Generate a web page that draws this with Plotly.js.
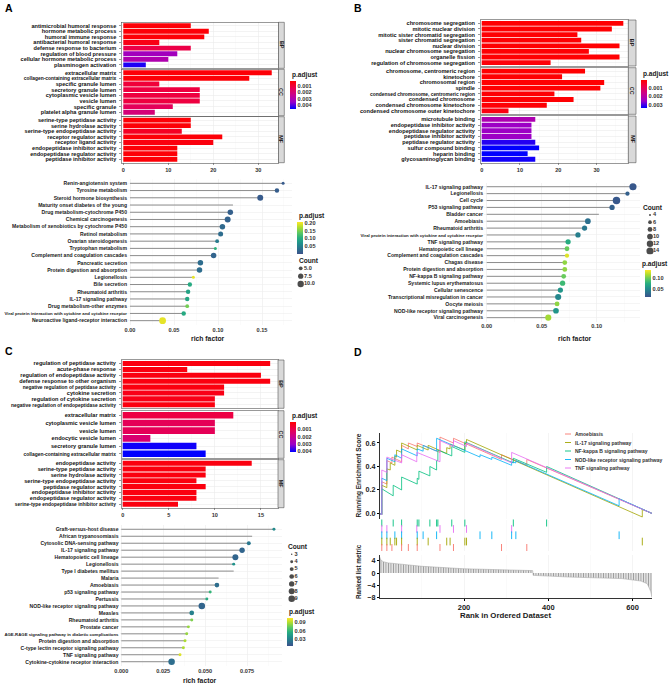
<!DOCTYPE html>
<html>
<head>
<meta charset="utf-8">
<script src="https://cdn.plot.ly/plotly-3.0.1.min.js"></script>
<style>html,body{margin:0;padding:0;background:#fff}#myDiv{width:669px;height:685px}</style>
</head>
<body>
<div id="myDiv"></div>
<script>
// ---------- panel A : GO bars ----------
var aBpTerms = ['antimicrobial humoral response', 'hormone metabolic process', 'humoral immune response', 'antibacterial humoral response', 'defense response to bacterium', 'regulation of blood pressure', 'cellular hormone metabolic process', 'plasminogen activation'];
var aBpCount = [15, 19, 18, 8, 15, 12, 10, 5];
var aBpPadj = [0.0003, 0.0003, 0.0003, 0.0005, 0.0012, 0.0033, 0.003, 0.0044];
var aCcTerms = ['extracellular matrix', 'collagen-containing extracellular matrix', 'specific granule lumen', 'secretory granule lumen', 'cytoplasmic vesicle lumen', 'vesicle lumen', 'specific granule', 'platelet alpha granule lumen'];
var aCcCount = [33, 28, 8, 17, 17, 17, 11, 7];
var aCcPadj = [0.0003, 0.0003, 0.001, 0.0011, 0.0011, 0.0011, 0.0015, 0.002];
var aMfTerms = ['serine-type peptidase activity', 'serine hydrolase activity', 'serine-type endopeptidase activity', 'receptor regulator activity', 'receptor ligand activity', 'endopeptidase inhibitor activity', 'endopeptidase regulator activity', 'peptidase inhibitor activity'];
var aMfCount = [15, 15, 13, 22, 20, 12, 12, 12];
var aMfPadj = [0.0003, 0.0003, 0.0007, 0.0003, 0.0004, 0.0003, 0.0003, 0.0003];

// ---------- panel A : KEGG lollipop ----------
var aKeggTerms = ['Renin-angiotensin system', 'Tyrosine metabolism', 'Steroid hormone biosynthesis', 'Maturity onset diabetes of the young', 'Drug metabolism-cytochrome P450', 'Chemical carcinogenesis', 'Metabolism of xenobiotics by cytochrome P450', 'Retinol metabolism', 'Ovarian steroidogenesis', 'Tryptophan metabolism', 'Complement and coagulation cascades', 'Pancreatic secretion', 'Protein digestion and absorption', 'Legionellosis', 'Bile secretion', 'Rheumatoid arthritis', 'IL-17 signaling pathway', 'Drug metabolism-other enzymes', 'Viral protein interaction with cytokine and cytokine receptor', 'Neuroactive ligand-receptor interaction'];
var aKeggRich = [0.174, 0.167, 0.148, 0.117, 0.114, 0.111, 0.105, 0.103, 0.099, 0.097, 0.095, 0.080, 0.079, 0.072, 0.068, 0.066, 0.065, 0.065, 0.061, 0.037];
var aKeggCount = [4, 6, 9, 2, 8, 9, 8, 7, 5, 4, 8, 8, 8, 4, 6, 6, 6, 5, 6, 11];
var aKeggPadj = [0.010, 0.012, 0.010, 0.21, 0.015, 0.018, 0.025, 0.030, 0.045, 0.11, 0.020, 0.030, 0.030, 0.20, 0.10, 0.09, 0.095, 0.15, 0.10, 0.20];
var aCountKeys = [5, 7.5, 10];

// ---------- panel B : GO bars ----------
var bBpTerms = ['chromosome segregation', 'mitotic nuclear division', 'mitotic sister chromatid segregation', 'sister chromatid segregation', 'nuclear division', 'nuclear chromosome segregation', 'organelle fission', 'regulation of chromosome segregation'];
var bBpCount = [37, 34, 25, 26, 36, 28, 36, 18];
var bBpPadj = [0.00002, 0.00002, 0.00003, 0.00003, 0.00002, 0.00003, 0.00002, 0.0001];
var bCcTerms = ['chromosome, centromeric region', 'kinetochore', 'chromosomal region', 'spindle', 'condensed chromosome, centromeric region', 'condensed chromosome', 'condensed chromosome kinetochore', 'condensed chromosome outer kinetochore'];
var bCcCount = [27, 21, 32, 31, 19, 24, 17, 7];
var bCcPadj = [0.00002, 0.00003, 0.00002, 0.00002, 0.00004, 0.00003, 0.00005, 0.0002];
var bMfTerms = ['microtubule binding', 'endopeptidase inhibitor activity', 'endopeptidase regulator activity', 'peptidase inhibitor activity', 'peptidase regulator activity', 'sulfur compound binding', 'heparin binding', 'glycosaminoglycan binding'];
var bMfCount = [14, 13, 13, 13, 14, 15, 12, 14];
var bMfPadj = [0.0022, 0.0025, 0.0025, 0.0025, 0.0032, 0.0034, 0.0034, 0.0033];

// ---------- panel B : KEGG lollipop ----------
var bKeggTerms = ['IL-17 signaling pathway', 'Legionellosis', 'Cell cycle', 'P53 signaling pathway', 'Bladder cancer', 'Amoebiasis', 'Rheumatoid arthritis', 'Viral protein interaction with cytokine and cytokine receptor', 'TNF signaling pathway', 'Hematopoietic cell lineage', 'Complement and coagulation cascades', 'Chagas disease', 'Protein digestion and absorption', 'NF-kappa B signaling pathway', 'Systemic lupus erythematosus', 'Cellular senescence', 'Transcriptional misregulation in cancer', 'Oocyte meiosis', 'NOD-like receptor signaling pathway', 'Viral carcinogenesis'];
var bKeggRich = [0.133, 0.128, 0.118, 0.114, 0.102, 0.092, 0.089, 0.083, 0.074, 0.073, 0.073, 0.071, 0.071, 0.070, 0.069, 0.067, 0.065, 0.064, 0.063, 0.056];
var bKeggCount = [14, 7, 15, 9, 3, 10, 9, 9, 9, 8, 7, 8, 8, 8, 9, 9, 11, 8, 10, 11];
var bKeggPadj = [0.02, 0.025, 0.02, 0.025, 0.2, 0.035, 0.04, 0.045, 0.075, 0.1, 0.13, 0.11, 0.11, 0.1, 0.085, 0.06, 0.05, 0.11, 0.06, 0.115];
var bCountKeys = [4, 6, 8, 10, 12, 14];

// ---------- panel C : GO bars ----------
var cBpTerms = ['regulation of peptidase activity', 'acute-phase response', 'regulation of endopeptidase activity', 'defense response to other organism', 'negative regulation of peptidase activity', 'cytokine secretion', 'regulation of cytokine secretion', 'negative regulation of endopeptidase activity'];
var cBpCount = [16, 7, 15, 16, 11, 11, 10, 10];
var cBpPadj = [0.0002, 0.0002, 0.0002, 0.0002, 0.0002, 0.0003, 0.0003, 0.0002];
var cCcTerms = ['extracellular matrix', 'cytoplasmic vesicle lumen', 'vesicle lumen', 'endocytic vesicle lumen', 'secretory granule lumen', 'collagen-containing extracellular matrix'];
var cCcCount = [12, 10, 10, 3, 8, 9];
var cCcPadj = [0.0009, 0.0012, 0.0012, 0.0016, 0.0041, 0.0042];
var cMfTerms = ['endopeptidase activity', 'serine-type peptidase activity', 'serine hydrolase activity', 'serine-type endopeptidase activity', 'peptidase regulator activity', 'endopeptidase inhibitor activity', 'endopeptidase regulator activity', 'serine-type endopeptidase inhibitor activity'];
var cMfCount = [14, 9, 9, 8, 9, 8, 8, 6];
var cMfPadj = [0.0002, 0.0002, 0.0002, 0.0002, 0.0002, 0.0002, 0.0002, 0.0002];

// ---------- panel C : KEGG lollipop ----------
var cKeggTerms = ['Graft-versus-host disease', 'African trypanosomiasis', 'Cytosolic DNA-sensing pathway', 'IL-17 signaling pathway', 'Hematopoietic cell lineage', 'Legionellosis', 'Type I diabetes mellitus', 'Malaria', 'Amoebiasis', 'p53 signaling pathway', 'Pertussis', 'NOD-like receptor signaling pathway', 'Measles', 'Rheumatoid arthritis', 'Prostate cancer', 'AGE-RAGE signaling pathway in diabetic complications', 'Protein digestion and absorption', 'C-type lectin receptor signaling pathway', 'TNF signaling pathway', 'Cytokine-cytokine receptor interaction'];
var cKeggRich = [0.091, 0.078, 0.076, 0.072, 0.068, 0.067, 0.067, 0.058, 0.057, 0.053, 0.051, 0.048, 0.042, 0.042, 0.040, 0.039, 0.038, 0.037, 0.035, 0.030];
var cKeggCount = [4, 2, 5, 7, 8, 4, 2, 2, 6, 4, 4, 9, 6, 4, 4, 4, 4, 4, 4, 9];
var cKeggPadj = [0.035, 0.12, 0.025, 0.015, 0.015, 0.04, 0.12, 0.12, 0.02, 0.06, 0.055, 0.015, 0.03, 0.08, 0.085, 0.085, 0.09, 0.09, 0.1, 0.02];
var cCountKeys = [3, 4, 5, 6, 7, 8, 9];

// ---------- panel D : GSEA ----------
var gseaSets = ['Amoebiasis', 'IL-17 signaling pathway', 'NF-kappa B signaling pathway', 'NOD-like receptor signaling pathway', 'TNF signaling pathway'];
var gseaColors = ['#F8766D', '#A3A500', '#00BF7D', '#00B0F6', '#E76BF3'];
var esAmoeRank = [0, 5, 5, 17, 17, 29, 29, 52, 52, 68, 68, 89, 89, 143, 143, 175, 175, 289, 289, 349, 349, 646];
var esAmoe = [0, -0.01, 0.27, 0.25, 0.45, 0.43, 0.48, 0.44, 0.58, 0.55, 0.6, 0.57, 0.6, 0.52, 0.65, 0.6, 0.64, 0.46, 0.5, 0.41, 0.46, 0];
var esIl17Rank = [0, 5, 5, 17, 17, 25, 25, 36, 36, 40, 40, 52, 52, 89, 89, 115, 115, 159, 159, 167, 167, 202, 202, 206, 206, 623, 623, 646];
var esIl17 = [0, -0.01, 0.24, 0.22, 0.38, 0.37, 0.43, 0.41, 0.49, 0.48, 0.54, 0.52, 0.6, 0.54, 0.58, 0.54, 0.58, 0.51, 0.56, 0.55, 0.59, 0.54, 0.6, 0.59, 0.63, -0.03, 0.035, 0];
var esNfkbRank = [0, 5, 5, 32, 32, 52, 52, 89, 89, 93, 93, 119, 119, 135, 135, 138, 138, 171, 171, 202, 202, 317, 317, 396, 396, 646];
var esNfkb = [0, -0.01, 0.21, 0.15, 0.24, 0.2, 0.31, 0.25, 0.3, 0.29, 0.36, 0.32, 0.4, 0.37, 0.45, 0.45, 0.54, 0.49, 0.57, 0.52, 0.61, 0.43, 0.47, 0.35, 0.4, 0];
var esNodRank = [0, 5, 5, 17, 17, 36, 36, 52, 52, 89, 89, 103, 103, 135, 135, 238, 238, 266, 266, 313, 313, 323, 323, 568, 568, 646];
var esNod = [0, -0.01, 0.3, 0.28, 0.47, 0.44, 0.5, 0.47, 0.55, 0.49, 0.55, 0.53, 0.58, 0.53, 0.64, 0.48, 0.5, 0.46, 0.48, 0.41, 0.44, 0.43, 0.45, 0.065, 0.125, 0];
var esTnfRank = [0, 5, 5, 17, 17, 52, 52, 88, 88, 143, 143, 175, 175, 206, 206, 313, 313, 646];
var esTnf = [0, -0.01, 0.37, 0.35, 0.48, 0.43, 0.5, 0.44, 0.52, 0.44, 0.62, 0.57, 0.62, 0.57, 0.6, 0.43, 0.52, 0];
// gene hits, rug rows from top
var rugSets = ['NF-kappa B signaling pathway', 'TNF signaling pathway', 'NOD-like receptor signaling pathway', 'IL-17 signaling pathway', 'Amoebiasis'];
var hitsNfkb = [5, 32, 52, 89, 93, 119, 135, 138, 171, 202, 317, 396];
var hitsTnf = [5, 17, 52, 88, 143, 175, 206, 313];
var hitsNod = [5, 17, 36, 52, 89, 103, 135, 238, 266, 313, 323, 568];
var hitsIl17 = [5, 17, 25, 36, 40, 52, 89, 115, 159, 167, 202, 206, 623];
var hitsAmoe = [5, 17, 29, 52, 68, 89, 143, 175, 289, 349];
// ranked list metric
var metricRank = [0, 2, 8, 20, 50, 100, 200, 300, 363, 364, 450, 575, 620, 635, 643, 646];
var metricValue = [5.3, 4.4, 3.7, 3.3, 2.9, 2.2, 1.4, 1.1, 0.8, -0.75, -1.3, -1.8, -2.6, -3.5, -6, -8];

// ---------- drawing ----------
var W = 669, H = 685;
var FONT = 'Liberation Sans, Arial, sans-serif';
function fx(p) { return p / W; }
function fy(p) { return 1 - p / H; }
function bold(size, color) { return {family: FONT, size: size, weight: 'bold', color: color || '#1a1a1a'}; }
function neg(v) { return -v; }

var redBlue = [[0, '#0000FF'], [0.25, '#9A00C8'], [0.5, '#C8008E'], [0.75, '#EA004E'], [1, '#FF0000']];
var viridisPart = [[0, '#3B528B'], [0.167, '#2C728E'], [0.333, '#21918C'], [0.5, '#28AE80'], [0.667, '#5EC962'], [0.833, '#ADDC30'], [1, '#FDE725']];

var data = [];
var layout = {
  width: W, height: H, margin: {l: 0, r: 0, t: 0, b: 0},
  paper_bgcolor: '#fff', plot_bgcolor: 'rgba(0,0,0,0)',
  showlegend: false, font: {family: FONT},
  shapes: [], annotations: []
};

var axisCount = 0;
function addAxes(left, right, top, bottom, xopt, yopt) {
  axisCount += 1;
  var n = axisCount === 1 ? '' : String(axisCount);
  layout['xaxis' + n] = Object.assign({domain: [fx(left), fx(right)], anchor: 'y' + n, fixedrange: true}, xopt);
  layout['yaxis' + n] = Object.assign({domain: [fy(bottom), fy(top)], anchor: 'x' + n, fixedrange: true}, yopt);
  return {x: 'x' + n, y: 'y' + n};
}

function note(x, y, text, font, extra) {
  layout.annotations.push(Object.assign({
    xref: 'paper', yref: 'paper', x: fx(x), y: fy(y), text: text, showarrow: false,
    xanchor: 'left', yanchor: 'middle', font: font
  }, extra || {}));
}

function shrink(limit, size) {
  return function (t) {
    return t.length > limit ? '<span style="font-size:' + size + 'px">' + t + '</span>' : t;
  };
}

function goPanel(facets, o) {
  facets.forEach(function (f, i) {
    var last = i === facets.length - 1;
    var a = addAxes(o.left, o.right, f.top, f.bottom, {
      range: o.xrange, dtick: o.dtick, tick0: 0, zeroline: false,
      showgrid: true, gridcolor: '#EBEBEB', gridwidth: 0.6,
      minor: {dtick: o.dtick / 2, tick0: 0, showgrid: true, gridcolor: '#F5F5F5', gridwidth: 0.4},
      showline: true, mirror: true, linecolor: '#555', linewidth: 0.6,
      showticklabels: last, ticks: last ? 'outside' : '', ticklen: 2, tickwidth: 0.6, tickcolor: '#555',
      tickfont: bold(5.6, '#333')
    }, {
      type: 'category', categoryorder: 'array', categoryarray: f.terms,
      range: [f.terms.length - 0.4, -0.6],
      tickmode: 'array', tickvals: f.terms, ticktext: f.terms.map(shrink(39, 4.9)),
      showgrid: true, gridcolor: '#EBEBEB', gridwidth: 0.6,
      showline: true, mirror: true, linecolor: '#555', linewidth: 0.6,
      ticks: 'outside', ticklen: 2, tickwidth: 0.6, tickcolor: '#555', ticklabelstandoff: 2,
      tickfont: bold(5.6, '#111')
    });
    data.push({
      type: 'bar', orientation: 'h', x: f.count, y: f.terms, xaxis: a.x, yaxis: a.y, width: 0.86,
      hoverinfo: 'skip',
      marker: {
        color: f.padj.map(neg), colorscale: redBlue, cmin: -o.pmax, cmax: -o.pmin,
        line: {width: 0}, showscale: i === 0,
        colorbar: {
          x: fx(o.cbx), xanchor: 'left', xpad: 0, y: fy(o.cbtop), yanchor: 'top', ypad: 0,
          len: o.cblen, lenmode: 'pixels', thickness: 5.5, thicknessmode: 'pixels', outlinewidth: 0,
          tickmode: 'array', tickvals: o.cbticks.map(neg),
          ticktext: o.cbticks.map(function (v) { return v.toFixed(3); }),
          ticks: '', tickfont: bold(5.6, '#333')
        }
      }
    });
    layout.shapes.push({
      type: 'rect', xref: 'paper', yref: 'paper',
      x0: fx(o.right), x1: fx(o.right + o.strip), y0: fy(f.bottom), y1: fy(f.top),
      fillcolor: '#D9D9D9', line: {color: '#555', width: 0.6}
    });
    note(o.right + o.strip / 2, (f.top + f.bottom) / 2, f.name, bold(5.4, '#222'),
      {xanchor: 'center', textangle: 90});
  });
  note(o.cbx, o.cbtop - 6, 'p.adjust', bold(6.6, '#1a1a1a'));
}

function dotSize(c, s) {
  if (c < s.cmin) { return 0; }
  var t = (c - s.cmin) / (s.cmax - s.cmin);
  return Math.sqrt(s.dmin * s.dmin + t * (s.dmax * s.dmax - s.dmin * s.dmin));
}

function lollipop(o) {
  var a = addAxes(o.left, o.right, o.top, o.bottom, {
    range: o.xrange, tickmode: 'array', tickvals: o.xticks, tickformat: o.fmt, zeroline: false,
    showgrid: true, gridcolor: '#EBEBEB', gridwidth: 0.6,
    minor: {tickmode: 'array', tickvals: o.xminor, showgrid: true, gridcolor: '#F5F5F5', gridwidth: 0.4},
    showline: false, ticks: '', tickfont: bold(5.6, '#333')
  }, {
    type: 'category', categoryorder: 'array', categoryarray: o.terms,
    range: [o.terms.length - 0.4, -0.6],
    tickmode: 'array', tickvals: o.terms, ticktext: o.terms.map(shrink(45, 4.3)),
    showgrid: true, gridcolor: '#EFEFEF', gridwidth: 0.6, showline: false, ticks: '',
    tickfont: bold(5.1, '#1a1a1a')
  });
  var sx = [], sy = [];
  o.terms.forEach(function (t, i) {
    sx.push(0, o.rich[i], null);
    sy.push(t, t, null);
  });
  data.push({type: 'scatter', mode: 'lines', x: sx, y: sy, xaxis: a.x, yaxis: a.y,
    line: {color: '#808080', width: 0.9}, hoverinfo: 'skip'});
  data.push({
    type: 'scatter', mode: 'markers', x: o.rich, y: o.terms, xaxis: a.x, yaxis: a.y, hoverinfo: 'skip',
    marker: {
      size: o.count.map(function (c) { return dotSize(c, o.size); }),
      color: o.padj, colorscale: viridisPart, cmin: o.pmin, cmax: o.pmax, line: {width: 0},
      opacity: 1, showscale: true,
      colorbar: {
        x: fx(o.cbx), xanchor: 'left', xpad: 0, y: fy(o.cbtop), yanchor: 'top', ypad: 0,
        len: o.cblen, lenmode: 'pixels', thickness: 5.5, thicknessmode: 'pixels', outlinewidth: 0,
        tickmode: 'array', tickvals: o.cbticks, tickformat: '.2f',
        ticks: '', tickfont: bold(5.6, '#333')
      }
    }
  });
  note(o.ptitleX, o.cbtop - 6, 'p.adjust', bold(6.6, '#1a1a1a'));
  note(o.titleX, o.titleY, 'rich factor', bold(6.8, '#1a1a1a'), {xanchor: 'center'});

  // size legend
  var k = o.keys;
  var g = addAxes(o.legX, o.legX + 25, o.legTop, o.legBottom,
    {range: [0, 25], visible: false}, {range: [k.length - 0.5, -0.5], visible: false});
  var idx = k.map(function (v, i) { return i; });
  data.push({type: 'scatter', mode: 'markers', x: k.map(function () { return o.legDot; }), y: idx,
    xaxis: g.x, yaxis: g.y, hoverinfo: 'skip',
    marker: {color: '#000', size: k.map(function (c) { return dotSize(c, o.size); }), line: {width: 0}}});
  data.push({type: 'scatter', mode: 'text', x: k.map(function () { return o.legText; }), y: idx,
    xaxis: g.x, yaxis: g.y, hoverinfo: 'skip',
    text: k.map(function (v) { return o.keyFmt ? v.toFixed(1) : String(v); }),
    textposition: 'middle right', textfont: bold(5.6, '#333')});
  note(o.legX, o.legTop - 4, 'Count', bold(6.6, '#1a1a1a'));
}

// ----- A -----
goPanel([
  {name: 'BP', terms: aBpTerms, count: aBpCount, padj: aBpPadj, top: 22.3, bottom: 68.3},
  {name: 'CC', terms: aCcTerms, count: aCcCount, padj: aCcPadj, top: 69.3, bottom: 115.7},
  {name: 'MF', terms: aMfTerms, count: aMfCount, padj: aMfPadj, top: 116.7, bottom: 162.7}
], {left: 122, right: 278.5, strip: 5.8, xrange: [-0.29, 34.5], dtick: 10,
  pmin: 0.0002, pmax: 0.0046, cbx: 290, cbtop: 81, cblen: 28.3, cbticks: [0.001, 0.002, 0.003, 0.004]});

lollipop({terms: aKeggTerms, rich: aKeggRich, count: aKeggCount, padj: aKeggPadj,
  left: 128, right: 292, top: 179, bottom: 325,
  xrange: [-0.0023, 0.1841], xticks: [0, 0.05, 0.1, 0.15], xminor: [0.025, 0.075, 0.125, 0.175], fmt: '.2f',
  size: {cmin: 4, cmax: 11, dmin: 3, dmax: 6.8},
  pmin: 0, pmax: 0.21, cbx: 296.7, ptitleX: 296.7, cbtop: 221.7, cblen: 31.6, cbticks: [0.05, 0.1, 0.15, 0.2],
  titleX: 208, titleY: 338,
  keys: aCountKeys, keyFmt: true, legX: 297, legTop: 264.4, legBottom: 287.9, legDot: 3.7, legText: 7});

// ----- B -----
goPanel([
  {name: 'BP', terms: bBpTerms, count: bBpCount, padj: bBpPadj, top: 20, bottom: 66},
  {name: 'CC', terms: bCcTerms, count: bCcCount, padj: bCcPadj, top: 67.7, bottom: 114.3},
  {name: 'MF', terms: bMfTerms, count: bMfCount, padj: bMfPadj, top: 116, bottom: 162.7}
], {left: 480.7, right: 628.3, strip: 7.7, xrange: [-0.26, 38.3], dtick: 10,
  pmin: 0, pmax: 0.0034, cbx: 641, cbtop: 80, cblen: 28.3, cbticks: [0.001, 0.002, 0.003]});

lollipop({terms: bKeggTerms, rich: bKeggRich, count: bKeggCount, padj: bKeggPadj,
  left: 484, right: 640, top: 182.6, bottom: 321.8,
  xrange: [-0.00245, 0.1394], xticks: [0, 0.05, 0.1], xminor: [0.025, 0.075, 0.125], fmt: '.2f',
  size: {cmin: 4, cmax: 15, dmin: 2, dmax: 7.5},
  pmin: 0.016, pmax: 0.138, cbx: 645, ptitleX: 640, cbtop: 270, cblen: 26.7, cbticks: [0.05, 0.1],
  titleX: 575, titleY: 338,
  keys: bCountKeys, keyFmt: false, legX: 641, legTop: 211.4, legBottom: 254.6, legDot: 9, legText: 12});

// ----- C -----
goPanel([
  {name: 'BP', terms: cBpTerms, count: cBpCount, padj: cBpPadj, top: 360, bottom: 408.3},
  {name: 'CC', terms: cCcTerms, count: cCcCount, padj: cCcPadj, top: 410.7, bottom: 458.3},
  {name: 'MF', terms: cMfTerms, count: cMfCount, padj: cMfPadj, top: 459.7, bottom: 507.7}
], {left: 121.7, right: 278, strip: 6, xrange: [-0.11, 16.85], dtick: 5,
  pmin: 0, pmax: 0.0042, cbx: 290, cbtop: 422.3, cblen: 30, cbticks: [0.001, 0.002, 0.003, 0.004]});

lollipop({terms: cKeggTerms, rich: cKeggRich, count: cKeggCount, padj: cKeggPadj,
  left: 119.5, right: 282, top: 525.1, bottom: 665.9,
  xrange: [-0.00107, 0.0958], xticks: [0, 0.025, 0.05, 0.075], xminor: [0.0125, 0.0375, 0.0625, 0.0875], fmt: '.3f',
  size: {cmin: 3, cmax: 9, dmin: 1.5, dmax: 6.5},
  pmin: 0.005, pmax: 0.107, cbx: 287.3, ptitleX: 287.3, cbtop: 617.7, cblen: 28.3, cbticks: [0.03, 0.06, 0.09],
  titleX: 200, titleY: 680,
  keys: cCountKeys, keyFmt: false, legX: 286, legTop: 550.6, legBottom: 602.4, legDot: 5.7, legText: 8.5});

// ----- D -----
var dxOpt = {range: [0, 646], tickmode: 'array', tickvals: [200, 400, 600], zeroline: false,
  showgrid: true, gridcolor: '#EDEDED', gridwidth: 0.6,
  minor: {tickmode: 'array', tickvals: [100, 300, 500], showgrid: true, gridcolor: '#F6F6F6', gridwidth: 0.5}};
var esAx = addAxes(379.7, 652, 433, 518.5,
  Object.assign({}, dxOpt, {showticklabels: false, ticks: ''}),
  {range: [-0.043, 0.685], tickmode: 'array', tickvals: [0, 0.2, 0.4, 0.6], tickformat: '.1f',
    showline: true, linecolor: '#000', linewidth: 0.8, ticks: 'outside', ticklen: 2, tickcolor: '#000',
    showgrid: false, zeroline: false, tickfont: bold(7.2, '#1a1a1a')});
var esRanks = [esAmoeRank, esIl17Rank, esNfkbRank, esNodRank, esTnfRank];
var esScores = [esAmoe, esIl17, esNfkb, esNod, esTnf];
gseaSets.forEach(function (name, i) {
  data.push({type: 'scatter', mode: 'lines', name: name, x: esRanks[i], y: esScores[i],
    xaxis: esAx.x, yaxis: esAx.y, line: {color: gseaColors[i], width: 0.8}, hoverinfo: 'skip'});
});

var rugAx = addAxes(379.7, 652, 519.5, 551,
  Object.assign({}, dxOpt, {showticklabels: false, ticks: ''}),
  {range: [4.5, -0.5], visible: false});
var rugHits = [hitsNfkb, hitsTnf, hitsNod, hitsIl17, hitsAmoe];
rugSets.forEach(function (name, row) {
  var col = gseaColors[gseaSets.indexOf(name)];
  data.push({type: 'scatter', mode: 'markers', x: rugHits[row],
    y: rugHits[row].map(function () { return row; }), xaxis: rugAx.x, yaxis: rugAx.y, hoverinfo: 'skip',
    marker: {symbol: 'line-ns', size: 5.5, line: {color: col, width: 0.9}}});
});

var mAx = addAxes(379.7, 652, 555.2, 597.7,
  Object.assign({}, dxOpt, {showline: true, linecolor: '#000', linewidth: 0.8, ticks: 'outside',
    ticklen: 2, tickcolor: '#000', tickfont: bold(7.5, '#1a1a1a')}),
  {range: [-8, 5.8], tickmode: 'array', tickvals: [4, 0, -4, -8], showline: true, linecolor: '#000',
    linewidth: 0.8, ticks: 'outside', ticklen: 2, tickcolor: '#000', showgrid: false, zeroline: false,
    tickfont: bold(7.2, '#1a1a1a')});
data.push({type: 'scatter', mode: 'lines', x: metricRank, y: metricValue, xaxis: mAx.x, yaxis: mAx.y,
  fill: 'tozeroy', fillcolor: '#E4E4E4',
  fillpattern: {shape: '|', size: 2.5, solidity: 0.45, fgcolor: '#9A9A9A', bgcolor: '#F2F2F2'},
  line: {color: '#A0A0A0', width: 0.5}, hoverinfo: 'skip'});

note(358, 475.5, 'Running Enrichment Score', bold(6.5, '#1a1a1a'), {xanchor: 'center', textangle: -90});
note(358, 571, 'Ranked list metric', bold(6.3, '#1a1a1a'), {xanchor: 'center', textangle: -90});
note(505, 615, 'Rank in Ordered Dataset', bold(7.8, '#1a1a1a'), {xanchor: 'center'});

gseaSets.forEach(function (name, i) {
  var yy = 434 + i * 8.5;
  layout.shapes.push({type: 'line', xref: 'paper', yref: 'paper', x0: fx(565), x1: fx(571),
    y0: fy(yy), y1: fy(yy), line: {color: gseaColors[i], width: 0.9}});
  note(573, yy, name, bold(5.0, '#333'));
});

// panel letters
note(9.3, 8.3, 'A', bold(10.5, '#000'), {xanchor: 'center'});
note(357.7, 7.5, 'B', bold(10.5, '#000'), {xanchor: 'center'});
note(9.3, 351, 'C', bold(10.5, '#000'), {xanchor: 'center'});
note(357.7, 351.7, 'D', bold(10.5, '#000'), {xanchor: 'center'});

Plotly.newPlot('myDiv', data, layout, {displayModeBar: false, staticPlot: true});
</script>
</body>
</html>
